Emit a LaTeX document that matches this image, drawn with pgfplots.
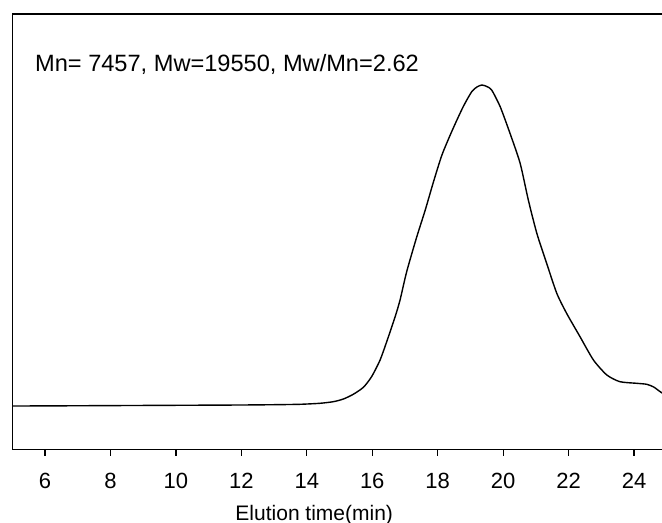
\documentclass[border=0pt]{standalone}
\usepackage{fontspec}
\setmainfont{Liberation Sans}
\usepackage{pgfplots}
\pgfplotsset{compat=1.18}
\begin{document}
\begin{tikzpicture}
\begin{axis}[
  scale only axis,
  width=325pt, height=218pt,
  at={(0,0)}, anchor=south west,
  xmin=4.99, xmax=24.856, ymin=0, ymax=436,
  xtick={6,8,...,24}, ytick=\empty,
  xtick pos=bottom, tick align=outside,
  major tick length=3pt,
  tick style={black, line width=0.6pt},
  axis line style={draw=none},
  /pgf/number format/assume math mode=true,
  xticklabel style={font=\fontsize{11}{13}\selectfont, anchor=base, yshift=-16pt},
  xlabel={Elution time(min)},
  xlabel style={font=\fontsize{10.5}{12}\selectfont, at={(axis description cs:0.465,0)}, anchor=base, yshift=-35pt},
  clip=true,
]
\addplot[black, line width=0.7pt, smooth, tension=0.4] coordinates {
(4.99,44) (6,44.1) (8,44.4) (10,44.7) (12,45) (13,45.3) (13.79,45.7)
(14.40,46.7) (14.81,48.3) (15.12,51) (15.42,55.7) (15.73,62.7) (15.98,73.3)
(16.24,90) (16.46,110) (16.70,133.3) (16.85,150) (17.05,178) (17.35,212)
(17.62,240) (17.87,268) (18.13,295) (18.45,320) (18.78,343.3) (19.04,358.3)
(19.20,363) (19.35,365) (19.50,363.5) (19.65,360) (19.91,343.3) (20.21,316.7)
(20.52,286.7) (20.77,250) (21.03,216.7) (21.33,186.7) (21.64,156.7) (21.94,136.7)
(22.35,113.3) (22.76,90) (23.17,75) (23.57,68.3) (24.08,66.7) (24.39,65.7)
(24.6,63) (24.80,58.3) (24.86,57)
};
\draw[black, line width=0.8pt] (rel axis cs:1,0) -- (rel axis cs:0,0) -- (rel axis cs:0,1) -- (rel axis cs:1,1);
\node[anchor=base west, font=\fontsize{11.8}{13}\selectfont, inner sep=0pt] at (rel axis cs:0.035,0.867) {Mn= 7457, Mw=19550, Mw/Mn=2.62};
\end{axis}
\pgfresetboundingbox
\path[use as bounding box] (-6pt,-36.5pt) rectangle (325pt,225pt);
\end{tikzpicture}
\end{document}
